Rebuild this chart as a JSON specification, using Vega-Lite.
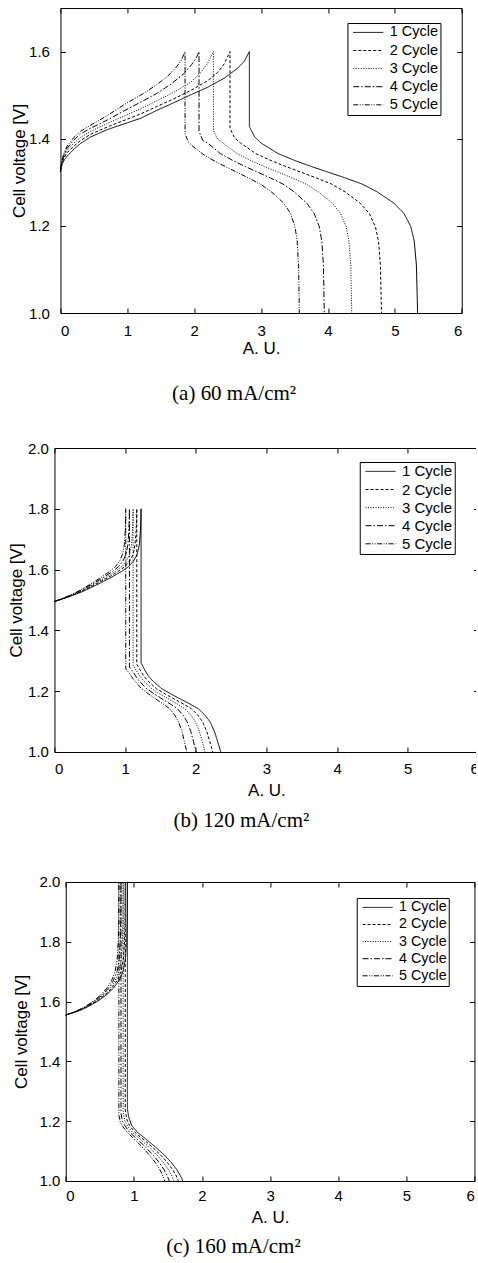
{
  "$schema": "https://vega.github.io/schema/vega-lite/v6.json",
  "padding": {"left": 6.45, "top": 7, "right": -3, "bottom": 0},
  "columns": 1,
  "spacing": 37,
  "resolve": {"scale": {"strokeDash": "independent"}, "legend": {"strokeDash": "independent"}},
  "config": {
    "view": {"stroke": null},
    "axis": {"labelFont": "Liberation Sans", "titleFont": "Liberation Sans", "labelFontSize": 15, "titleFontSize": 17, "titleFontWeight": "normal", "labelColor": "black", "titleColor": "black", "tickColor": "black", "tickSize": -5, "grid": false, "domain": true, "domainColor": "black", "domainWidth": 1},
    "legend": {"labelFont": "Liberation Sans", "labelFontSize": 14.5, "labelColor": "black"},
    "title": {"font": "Liberation Serif", "fontSize": 21, "fontWeight": "normal", "color": "black"}
  },
  "datasets": {
    "a": [
      {"c":"1 Cycle","i":0,"x":0,"v":1.325},{"c":"1 Cycle","i":1,"x":0.01,"v":1.333},{"c":"1 Cycle","i":2,"x":0.03,"v":1.343},{"c":"1 Cycle","i":3,"x":0.06,"v":1.352},{"c":"1 Cycle","i":4,"x":0.1,"v":1.36},{"c":"1 Cycle","i":5,"x":0.2,"v":1.376},{"c":"1 Cycle","i":6,"x":0.3,"v":1.389},{"c":"1 Cycle","i":7,"x":0.45,"v":1.404},{"c":"1 Cycle","i":8,"x":0.7,"v":1.421},{"c":"1 Cycle","i":9,"x":0.95,"v":1.434},{"c":"1 Cycle","i":10,"x":1.2,"v":1.447},{"c":"1 Cycle","i":11,"x":1.44,"v":1.465},{"c":"1 Cycle","i":12,"x":1.7,"v":1.483},{"c":"1 Cycle","i":13,"x":1.95,"v":1.501},{"c":"1 Cycle","i":14,"x":2.2,"v":1.518},{"c":"1 Cycle","i":15,"x":2.45,"v":1.539},{"c":"1 Cycle","i":16,"x":2.65,"v":1.562},{"c":"1 Cycle","i":17,"x":2.75,"v":1.578},{"c":"1 Cycle","i":18,"x":2.825,"v":1.6},
      {"c":"1 Cycle","i":19,"x":2.825,"v":1.428},{"c":"1 Cycle","i":20,"x":2.9,"v":1.405},{"c":"1 Cycle","i":21,"x":3.001,"v":1.39},{"c":"1 Cycle","i":22,"x":3.253,"v":1.366},{"c":"1 Cycle","i":23,"x":3.504,"v":1.35},{"c":"1 Cycle","i":24,"x":3.756,"v":1.336},{"c":"1 Cycle","i":25,"x":4.007,"v":1.323},{"c":"1 Cycle","i":26,"x":4.259,"v":1.31},{"c":"1 Cycle","i":27,"x":4.51,"v":1.296},{"c":"1 Cycle","i":28,"x":4.736,"v":1.278},{"c":"1 Cycle","i":29,"x":4.988,"v":1.252},{"c":"1 Cycle","i":30,"x":5.139,"v":1.228},{"c":"1 Cycle","i":31,"x":5.239,"v":1.198},{"c":"1 Cycle","i":32,"x":5.29,"v":1.165},{"c":"1 Cycle","i":33,"x":5.322,"v":1.11},{"c":"1 Cycle","i":34,"x":5.332,"v":1.05},{"c":"1 Cycle","i":35,"x":5.34,"v":1.0},
      {"c":"2 Cycle","i":0,"x":0,"v":1.325},{"c":"2 Cycle","i":1,"x":0.01,"v":1.336},{"c":"2 Cycle","i":2,"x":0.03,"v":1.347},{"c":"2 Cycle","i":3,"x":0.06,"v":1.358},{"c":"2 Cycle","i":4,"x":0.1,"v":1.368},{"c":"2 Cycle","i":5,"x":0.2,"v":1.383},{"c":"2 Cycle","i":6,"x":0.3,"v":1.396},{"c":"2 Cycle","i":7,"x":0.45,"v":1.41},{"c":"2 Cycle","i":8,"x":0.7,"v":1.427},{"c":"2 Cycle","i":9,"x":0.95,"v":1.442},{"c":"2 Cycle","i":10,"x":1.2,"v":1.457},{"c":"2 Cycle","i":11,"x":1.44,"v":1.474},{"c":"2 Cycle","i":12,"x":1.7,"v":1.492},{"c":"2 Cycle","i":13,"x":1.95,"v":1.511},{"c":"2 Cycle","i":14,"x":2.2,"v":1.533},{"c":"2 Cycle","i":15,"x":2.35,"v":1.552},{"c":"2 Cycle","i":16,"x":2.45,"v":1.572},{"c":"2 Cycle","i":17,"x":2.535,"v":1.6},
      {"c":"2 Cycle","i":18,"x":2.535,"v":1.424},{"c":"2 Cycle","i":19,"x":2.603,"v":1.402},{"c":"2 Cycle","i":20,"x":2.694,"v":1.39},{"c":"2 Cycle","i":21,"x":2.92,"v":1.366},{"c":"2 Cycle","i":22,"x":3.147,"v":1.35},{"c":"2 Cycle","i":23,"x":3.373,"v":1.336},{"c":"2 Cycle","i":24,"x":3.6,"v":1.323},{"c":"2 Cycle","i":25,"x":3.826,"v":1.31},{"c":"2 Cycle","i":26,"x":4.053,"v":1.296},{"c":"2 Cycle","i":27,"x":4.256,"v":1.278},{"c":"2 Cycle","i":28,"x":4.483,"v":1.252},{"c":"2 Cycle","i":29,"x":4.619,"v":1.228},{"c":"2 Cycle","i":30,"x":4.709,"v":1.198},{"c":"2 Cycle","i":31,"x":4.755,"v":1.165},{"c":"2 Cycle","i":32,"x":4.784,"v":1.11},{"c":"2 Cycle","i":33,"x":4.793,"v":1.05},{"c":"2 Cycle","i":34,"x":4.8,"v":1.0},
      {"c":"3 Cycle","i":0,"x":0,"v":1.325},{"c":"3 Cycle","i":1,"x":0.01,"v":1.337},{"c":"3 Cycle","i":2,"x":0.03,"v":1.35},{"c":"3 Cycle","i":3,"x":0.06,"v":1.362},{"c":"3 Cycle","i":4,"x":0.1,"v":1.373},{"c":"3 Cycle","i":5,"x":0.2,"v":1.39},{"c":"3 Cycle","i":6,"x":0.3,"v":1.403},{"c":"3 Cycle","i":7,"x":0.45,"v":1.417},{"c":"3 Cycle","i":8,"x":0.7,"v":1.435},{"c":"3 Cycle","i":9,"x":0.95,"v":1.452},{"c":"3 Cycle","i":10,"x":1.2,"v":1.469},{"c":"3 Cycle","i":11,"x":1.44,"v":1.487},{"c":"3 Cycle","i":12,"x":1.7,"v":1.507},{"c":"3 Cycle","i":13,"x":1.95,"v":1.53},{"c":"3 Cycle","i":14,"x":2.1,"v":1.552},{"c":"3 Cycle","i":15,"x":2.2,"v":1.573},{"c":"3 Cycle","i":16,"x":2.287,"v":1.6},
      {"c":"3 Cycle","i":17,"x":2.287,"v":1.42},{"c":"3 Cycle","i":18,"x":2.349,"v":1.399},{"c":"3 Cycle","i":19,"x":2.432,"v":1.39},{"c":"3 Cycle","i":20,"x":2.639,"v":1.366},{"c":"3 Cycle","i":21,"x":2.845,"v":1.35},{"c":"3 Cycle","i":22,"x":3.052,"v":1.336},{"c":"3 Cycle","i":23,"x":3.259,"v":1.323},{"c":"3 Cycle","i":24,"x":3.466,"v":1.31},{"c":"3 Cycle","i":25,"x":3.673,"v":1.296},{"c":"3 Cycle","i":26,"x":3.859,"v":1.278},{"c":"3 Cycle","i":27,"x":4.065,"v":1.252},{"c":"3 Cycle","i":28,"x":4.19,"v":1.228},{"c":"3 Cycle","i":29,"x":4.272,"v":1.198},{"c":"3 Cycle","i":30,"x":4.314,"v":1.165},{"c":"3 Cycle","i":31,"x":4.341,"v":1.11},{"c":"3 Cycle","i":32,"x":4.349,"v":1.05},{"c":"3 Cycle","i":33,"x":4.355,"v":1.0},
      {"c":"4 Cycle","i":0,"x":0,"v":1.325},{"c":"4 Cycle","i":1,"x":0.01,"v":1.338},{"c":"4 Cycle","i":2,"x":0.03,"v":1.352},{"c":"4 Cycle","i":3,"x":0.06,"v":1.366},{"c":"4 Cycle","i":4,"x":0.1,"v":1.378},{"c":"4 Cycle","i":5,"x":0.2,"v":1.397},{"c":"4 Cycle","i":6,"x":0.3,"v":1.411},{"c":"4 Cycle","i":7,"x":0.45,"v":1.424},{"c":"4 Cycle","i":8,"x":0.7,"v":1.443},{"c":"4 Cycle","i":9,"x":0.95,"v":1.464},{"c":"4 Cycle","i":10,"x":1.2,"v":1.484},{"c":"4 Cycle","i":11,"x":1.44,"v":1.504},{"c":"4 Cycle","i":12,"x":1.65,"v":1.525},{"c":"4 Cycle","i":13,"x":1.85,"v":1.55},{"c":"4 Cycle","i":14,"x":1.96,"v":1.57},{"c":"4 Cycle","i":15,"x":2.03,"v":1.585},{"c":"4 Cycle","i":16,"x":2.072,"v":1.6},
      {"c":"4 Cycle","i":17,"x":2.072,"v":1.417},{"c":"4 Cycle","i":18,"x":2.128,"v":1.396},{"c":"4 Cycle","i":19,"x":2.203,"v":1.39},{"c":"4 Cycle","i":20,"x":2.39,"v":1.366},{"c":"4 Cycle","i":21,"x":2.578,"v":1.35},{"c":"4 Cycle","i":22,"x":2.765,"v":1.336},{"c":"4 Cycle","i":23,"x":2.952,"v":1.323},{"c":"4 Cycle","i":24,"x":3.14,"v":1.31},{"c":"4 Cycle","i":25,"x":3.327,"v":1.296},{"c":"4 Cycle","i":26,"x":3.495,"v":1.278},{"c":"4 Cycle","i":27,"x":3.683,"v":1.252},{"c":"4 Cycle","i":28,"x":3.795,"v":1.228},{"c":"4 Cycle","i":29,"x":3.87,"v":1.198},{"c":"4 Cycle","i":30,"x":3.908,"v":1.165},{"c":"4 Cycle","i":31,"x":3.932,"v":1.11},{"c":"4 Cycle","i":32,"x":3.939,"v":1.05},{"c":"4 Cycle","i":33,"x":3.945,"v":1.0},
      {"c":"5 Cycle","i":0,"x":0,"v":1.325},{"c":"5 Cycle","i":1,"x":0.01,"v":1.34},{"c":"5 Cycle","i":2,"x":0.03,"v":1.355},{"c":"5 Cycle","i":3,"x":0.06,"v":1.37},{"c":"5 Cycle","i":4,"x":0.1,"v":1.383},{"c":"5 Cycle","i":5,"x":0.2,"v":1.403},{"c":"5 Cycle","i":6,"x":0.3,"v":1.417},{"c":"5 Cycle","i":7,"x":0.45,"v":1.431},{"c":"5 Cycle","i":8,"x":0.7,"v":1.453},{"c":"5 Cycle","i":9,"x":0.95,"v":1.478},{"c":"5 Cycle","i":10,"x":1.2,"v":1.5},{"c":"5 Cycle","i":11,"x":1.44,"v":1.524},{"c":"5 Cycle","i":12,"x":1.6,"v":1.543},{"c":"5 Cycle","i":13,"x":1.72,"v":1.562},{"c":"5 Cycle","i":14,"x":1.8,"v":1.578},{"c":"5 Cycle","i":15,"x":1.863,"v":1.6},
      {"c":"5 Cycle","i":16,"x":1.863,"v":1.411},{"c":"5 Cycle","i":17,"x":1.914,"v":1.392},{"c":"5 Cycle","i":18,"x":1.983,"v":1.382},{"c":"5 Cycle","i":19,"x":2.154,"v":1.362},{"c":"5 Cycle","i":20,"x":2.324,"v":1.347},{"c":"5 Cycle","i":21,"x":2.495,"v":1.334},{"c":"5 Cycle","i":22,"x":2.666,"v":1.321},{"c":"5 Cycle","i":23,"x":2.837,"v":1.308},{"c":"5 Cycle","i":24,"x":3.008,"v":1.294},{"c":"5 Cycle","i":25,"x":3.162,"v":1.277},{"c":"5 Cycle","i":26,"x":3.333,"v":1.253},{"c":"5 Cycle","i":27,"x":3.435,"v":1.23},{"c":"5 Cycle","i":28,"x":3.504,"v":1.2},{"c":"5 Cycle","i":29,"x":3.538,"v":1.168},{"c":"5 Cycle","i":30,"x":3.56,"v":1.11},{"c":"5 Cycle","i":31,"x":3.567,"v":1.05},{"c":"5 Cycle","i":32,"x":3.572,"v":1.0}
    ],
    "b": [
      {"c":"1 Cycle","i":0,"x":0,"v":1.495},{"c":"1 Cycle","i":1,"x":0.2,"v":1.51},{"c":"1 Cycle","i":2,"x":0.4,"v":1.528},{"c":"1 Cycle","i":3,"x":0.6,"v":1.55},{"c":"1 Cycle","i":4,"x":0.8,"v":1.574},{"c":"1 Cycle","i":5,"x":0.95,"v":1.594},{"c":"1 Cycle","i":6,"x":1.05,"v":1.61},{"c":"1 Cycle","i":7,"x":1.12,"v":1.628},{"c":"1 Cycle","i":8,"x":1.17,"v":1.65},{"c":"1 Cycle","i":9,"x":1.2,"v":1.68},{"c":"1 Cycle","i":10,"x":1.215,"v":1.72},{"c":"1 Cycle","i":11,"x":1.223,"v":1.76},{"c":"1 Cycle","i":12,"x":1.226,"v":1.8},
      {"c":"1 Cycle","i":13,"x":1.226,"v":1.293},{"c":"1 Cycle","i":14,"x":1.26,"v":1.278},{"c":"1 Cycle","i":15,"x":1.294,"v":1.263},{"c":"1 Cycle","i":16,"x":1.33,"v":1.25},{"c":"1 Cycle","i":17,"x":1.395,"v":1.233},{"c":"1 Cycle","i":18,"x":1.519,"v":1.208},{"c":"1 Cycle","i":19,"x":1.655,"v":1.19},{"c":"1 Cycle","i":20,"x":1.801,"v":1.172},{"c":"1 Cycle","i":21,"x":1.925,"v":1.157},{"c":"1 Cycle","i":22,"x":2.038,"v":1.142},{"c":"1 Cycle","i":23,"x":2.128,"v":1.122},{"c":"1 Cycle","i":24,"x":2.203,"v":1.099},{"c":"1 Cycle","i":25,"x":2.264,"v":1.068},{"c":"1 Cycle","i":26,"x":2.309,"v":1.035},{"c":"1 Cycle","i":27,"x":2.354,"v":1.0},
      {"c":"2 Cycle","i":0,"x":0,"v":1.495},{"c":"2 Cycle","i":1,"x":0.19,"v":1.51},{"c":"2 Cycle","i":2,"x":0.38,"v":1.528},{"c":"2 Cycle","i":3,"x":0.57,"v":1.55},{"c":"2 Cycle","i":4,"x":0.76,"v":1.574},{"c":"2 Cycle","i":5,"x":0.903,"v":1.594},{"c":"2 Cycle","i":6,"x":0.998,"v":1.61},{"c":"2 Cycle","i":7,"x":1.064,"v":1.628},{"c":"2 Cycle","i":8,"x":1.112,"v":1.65},{"c":"2 Cycle","i":9,"x":1.14,"v":1.68},{"c":"2 Cycle","i":10,"x":1.154,"v":1.72},{"c":"2 Cycle","i":11,"x":1.162,"v":1.76},{"c":"2 Cycle","i":12,"x":1.165,"v":1.8},
      {"c":"2 Cycle","i":13,"x":1.165,"v":1.289},{"c":"2 Cycle","i":14,"x":1.197,"v":1.276},{"c":"2 Cycle","i":15,"x":1.23,"v":1.263},{"c":"2 Cycle","i":16,"x":1.264,"v":1.25},{"c":"2 Cycle","i":17,"x":1.326,"v":1.233},{"c":"2 Cycle","i":18,"x":1.445,"v":1.208},{"c":"2 Cycle","i":19,"x":1.574,"v":1.19},{"c":"2 Cycle","i":20,"x":1.714,"v":1.172},{"c":"2 Cycle","i":21,"x":1.832,"v":1.157},{"c":"2 Cycle","i":22,"x":1.94,"v":1.142},{"c":"2 Cycle","i":23,"x":2.026,"v":1.122},{"c":"2 Cycle","i":24,"x":2.097,"v":1.099},{"c":"2 Cycle","i":25,"x":2.155,"v":1.068},{"c":"2 Cycle","i":26,"x":2.198,"v":1.035},{"c":"2 Cycle","i":27,"x":2.241,"v":1.0},
      {"c":"3 Cycle","i":0,"x":0,"v":1.495},{"c":"3 Cycle","i":1,"x":0.182,"v":1.51},{"c":"3 Cycle","i":2,"x":0.363,"v":1.528},{"c":"3 Cycle","i":3,"x":0.545,"v":1.55},{"c":"3 Cycle","i":4,"x":0.726,"v":1.574},{"c":"3 Cycle","i":5,"x":0.863,"v":1.594},{"c":"3 Cycle","i":6,"x":0.953,"v":1.61},{"c":"3 Cycle","i":7,"x":1.017,"v":1.628},{"c":"3 Cycle","i":8,"x":1.062,"v":1.65},{"c":"3 Cycle","i":9,"x":1.09,"v":1.68},{"c":"3 Cycle","i":10,"x":1.103,"v":1.72},{"c":"3 Cycle","i":11,"x":1.11,"v":1.76},{"c":"3 Cycle","i":12,"x":1.113,"v":1.8},
      {"c":"3 Cycle","i":13,"x":1.113,"v":1.285},{"c":"3 Cycle","i":14,"x":1.144,"v":1.273},{"c":"3 Cycle","i":15,"x":1.174,"v":1.263},{"c":"3 Cycle","i":16,"x":1.207,"v":1.25},{"c":"3 Cycle","i":17,"x":1.266,"v":1.233},{"c":"3 Cycle","i":18,"x":1.378,"v":1.208},{"c":"3 Cycle","i":19,"x":1.5,"v":1.19},{"c":"3 Cycle","i":20,"x":1.633,"v":1.172},{"c":"3 Cycle","i":21,"x":1.745,"v":1.157},{"c":"3 Cycle","i":22,"x":1.847,"v":1.142},{"c":"3 Cycle","i":23,"x":1.928,"v":1.122},{"c":"3 Cycle","i":24,"x":1.995,"v":1.099},{"c":"3 Cycle","i":25,"x":2.05,"v":1.068},{"c":"3 Cycle","i":26,"x":2.091,"v":1.035},{"c":"3 Cycle","i":27,"x":2.132,"v":1.0},
      {"c":"4 Cycle","i":0,"x":0,"v":1.495},{"c":"4 Cycle","i":1,"x":0.173,"v":1.51},{"c":"4 Cycle","i":2,"x":0.346,"v":1.528},{"c":"4 Cycle","i":3,"x":0.519,"v":1.55},{"c":"4 Cycle","i":4,"x":0.692,"v":1.574},{"c":"4 Cycle","i":5,"x":0.822,"v":1.594},{"c":"4 Cycle","i":6,"x":0.908,"v":1.61},{"c":"4 Cycle","i":7,"x":0.969,"v":1.628},{"c":"4 Cycle","i":8,"x":1.012,"v":1.65},{"c":"4 Cycle","i":9,"x":1.038,"v":1.68},{"c":"4 Cycle","i":10,"x":1.051,"v":1.72},{"c":"4 Cycle","i":11,"x":1.058,"v":1.76},{"c":"4 Cycle","i":12,"x":1.061,"v":1.8},
      {"c":"4 Cycle","i":13,"x":1.061,"v":1.28},{"c":"4 Cycle","i":14,"x":1.089,"v":1.27},{"c":"4 Cycle","i":15,"x":1.118,"v":1.262},{"c":"4 Cycle","i":16,"x":1.148,"v":1.25},{"c":"4 Cycle","i":17,"x":1.203,"v":1.233},{"c":"4 Cycle","i":18,"x":1.306,"v":1.208},{"c":"4 Cycle","i":19,"x":1.42,"v":1.19},{"c":"4 Cycle","i":20,"x":1.542,"v":1.172},{"c":"4 Cycle","i":21,"x":1.646,"v":1.157},{"c":"4 Cycle","i":22,"x":1.741,"v":1.142},{"c":"4 Cycle","i":23,"x":1.816,"v":1.122},{"c":"4 Cycle","i":24,"x":1.879,"v":1.099},{"c":"4 Cycle","i":25,"x":1.929,"v":1.068},{"c":"4 Cycle","i":26,"x":1.967,"v":1.035},{"c":"4 Cycle","i":27,"x":2.005,"v":1.0},
      {"c":"5 Cycle","i":0,"x":0,"v":1.495},{"c":"5 Cycle","i":1,"x":0.165,"v":1.51},{"c":"5 Cycle","i":2,"x":0.329,"v":1.528},{"c":"5 Cycle","i":3,"x":0.494,"v":1.55},{"c":"5 Cycle","i":4,"x":0.658,"v":1.574},{"c":"5 Cycle","i":5,"x":0.782,"v":1.594},{"c":"5 Cycle","i":6,"x":0.864,"v":1.61},{"c":"5 Cycle","i":7,"x":0.922,"v":1.628},{"c":"5 Cycle","i":8,"x":0.963,"v":1.65},{"c":"5 Cycle","i":9,"x":0.988,"v":1.68},{"c":"5 Cycle","i":10,"x":1.0,"v":1.72},{"c":"5 Cycle","i":11,"x":1.007,"v":1.76},{"c":"5 Cycle","i":12,"x":1.009,"v":1.8},
      {"c":"5 Cycle","i":13,"x":1.009,"v":1.273},{"c":"5 Cycle","i":14,"x":1.035,"v":1.266},{"c":"5 Cycle","i":15,"x":1.061,"v":1.259},{"c":"5 Cycle","i":16,"x":1.088,"v":1.249},{"c":"5 Cycle","i":17,"x":1.139,"v":1.233},{"c":"5 Cycle","i":18,"x":1.234,"v":1.208},{"c":"5 Cycle","i":19,"x":1.337,"v":1.19},{"c":"5 Cycle","i":20,"x":1.45,"v":1.172},{"c":"5 Cycle","i":21,"x":1.545,"v":1.157},{"c":"5 Cycle","i":22,"x":1.631,"v":1.142},{"c":"5 Cycle","i":23,"x":1.7,"v":1.122},{"c":"5 Cycle","i":24,"x":1.757,"v":1.099},{"c":"5 Cycle","i":25,"x":1.804,"v":1.068},{"c":"5 Cycle","i":26,"x":1.838,"v":1.035},{"c":"5 Cycle","i":27,"x":1.873,"v":1.0}
    ],
    "c": [
      {"c":"1 Cycle","i":0,"x":0,"v":1.555},{"c":"1 Cycle","i":1,"x":0.1,"v":1.562},{"c":"1 Cycle","i":2,"x":0.2,"v":1.57},{"c":"1 Cycle","i":3,"x":0.3,"v":1.58},{"c":"1 Cycle","i":4,"x":0.4,"v":1.592},{"c":"1 Cycle","i":5,"x":0.5,"v":1.606},{"c":"1 Cycle","i":6,"x":0.6,"v":1.623},{"c":"1 Cycle","i":7,"x":0.7,"v":1.645},{"c":"1 Cycle","i":8,"x":0.78,"v":1.67},{"c":"1 Cycle","i":9,"x":0.84,"v":1.7},{"c":"1 Cycle","i":10,"x":0.875,"v":1.74},{"c":"1 Cycle","i":11,"x":0.893,"v":1.8},{"c":"1 Cycle","i":12,"x":0.902,"v":1.87},{"c":"1 Cycle","i":13,"x":0.905,"v":2.0},
      {"c":"1 Cycle","i":14,"x":0.905,"v":1.24},{"c":"1 Cycle","i":15,"x":0.929,"v":1.21},{"c":"1 Cycle","i":16,"x":0.97,"v":1.185},{"c":"1 Cycle","i":17,"x":1.052,"v":1.163},{"c":"1 Cycle","i":18,"x":1.15,"v":1.145},{"c":"1 Cycle","i":19,"x":1.3,"v":1.117},{"c":"1 Cycle","i":20,"x":1.451,"v":1.086},{"c":"1 Cycle","i":21,"x":1.549,"v":1.062},{"c":"1 Cycle","i":22,"x":1.63,"v":1.038},{"c":"1 Cycle","i":23,"x":1.679,"v":1.02},{"c":"1 Cycle","i":24,"x":1.72,"v":1.0},
      {"c":"2 Cycle","i":0,"x":0,"v":1.555},{"c":"2 Cycle","i":1,"x":0.097,"v":1.562},{"c":"2 Cycle","i":2,"x":0.193,"v":1.57},{"c":"2 Cycle","i":3,"x":0.29,"v":1.58},{"c":"2 Cycle","i":4,"x":0.386,"v":1.592},{"c":"2 Cycle","i":5,"x":0.483,"v":1.606},{"c":"2 Cycle","i":6,"x":0.58,"v":1.623},{"c":"2 Cycle","i":7,"x":0.676,"v":1.645},{"c":"2 Cycle","i":8,"x":0.753,"v":1.67},{"c":"2 Cycle","i":9,"x":0.811,"v":1.7},{"c":"2 Cycle","i":10,"x":0.845,"v":1.74},{"c":"2 Cycle","i":11,"x":0.863,"v":1.8},{"c":"2 Cycle","i":12,"x":0.871,"v":1.87},{"c":"2 Cycle","i":13,"x":0.874,"v":2.0},
      {"c":"2 Cycle","i":14,"x":0.874,"v":1.235},{"c":"2 Cycle","i":15,"x":0.897,"v":1.206},{"c":"2 Cycle","i":16,"x":0.936,"v":1.185},{"c":"2 Cycle","i":17,"x":1.015,"v":1.163},{"c":"2 Cycle","i":18,"x":1.108,"v":1.145},{"c":"2 Cycle","i":19,"x":1.253,"v":1.117},{"c":"2 Cycle","i":20,"x":1.397,"v":1.086},{"c":"2 Cycle","i":21,"x":1.491,"v":1.062},{"c":"2 Cycle","i":22,"x":1.569,"v":1.038},{"c":"2 Cycle","i":23,"x":1.616,"v":1.02},{"c":"2 Cycle","i":24,"x":1.655,"v":1.0},
      {"c":"3 Cycle","i":0,"x":0,"v":1.555},{"c":"3 Cycle","i":1,"x":0.093,"v":1.562},{"c":"3 Cycle","i":2,"x":0.186,"v":1.57},{"c":"3 Cycle","i":3,"x":0.279,"v":1.58},{"c":"3 Cycle","i":4,"x":0.372,"v":1.592},{"c":"3 Cycle","i":5,"x":0.466,"v":1.606},{"c":"3 Cycle","i":6,"x":0.559,"v":1.623},{"c":"3 Cycle","i":7,"x":0.652,"v":1.645},{"c":"3 Cycle","i":8,"x":0.726,"v":1.67},{"c":"3 Cycle","i":9,"x":0.782,"v":1.7},{"c":"3 Cycle","i":10,"x":0.815,"v":1.74},{"c":"3 Cycle","i":11,"x":0.831,"v":1.8},{"c":"3 Cycle","i":12,"x":0.84,"v":1.87},{"c":"3 Cycle","i":13,"x":0.843,"v":2.0},
      {"c":"3 Cycle","i":14,"x":0.843,"v":1.23},{"c":"3 Cycle","i":15,"x":0.865,"v":1.203},{"c":"3 Cycle","i":16,"x":0.903,"v":1.185},{"c":"3 Cycle","i":17,"x":0.977,"v":1.163},{"c":"3 Cycle","i":18,"x":1.067,"v":1.145},{"c":"3 Cycle","i":19,"x":1.205,"v":1.117},{"c":"3 Cycle","i":20,"x":1.343,"v":1.086},{"c":"3 Cycle","i":21,"x":1.433,"v":1.062},{"c":"3 Cycle","i":22,"x":1.508,"v":1.038},{"c":"3 Cycle","i":23,"x":1.553,"v":1.02},{"c":"3 Cycle","i":24,"x":1.59,"v":1.0},
      {"c":"4 Cycle","i":0,"x":0,"v":1.555},{"c":"4 Cycle","i":1,"x":0.09,"v":1.562},{"c":"4 Cycle","i":2,"x":0.179,"v":1.57},{"c":"4 Cycle","i":3,"x":0.269,"v":1.58},{"c":"4 Cycle","i":4,"x":0.358,"v":1.592},{"c":"4 Cycle","i":5,"x":0.448,"v":1.606},{"c":"4 Cycle","i":6,"x":0.538,"v":1.623},{"c":"4 Cycle","i":7,"x":0.627,"v":1.645},{"c":"4 Cycle","i":8,"x":0.699,"v":1.67},{"c":"4 Cycle","i":9,"x":0.753,"v":1.7},{"c":"4 Cycle","i":10,"x":0.784,"v":1.74},{"c":"4 Cycle","i":11,"x":0.8,"v":1.8},{"c":"4 Cycle","i":12,"x":0.808,"v":1.87},{"c":"4 Cycle","i":13,"x":0.811,"v":2.0},
      {"c":"4 Cycle","i":14,"x":0.811,"v":1.225},{"c":"4 Cycle","i":15,"x":0.832,"v":1.2},{"c":"4 Cycle","i":16,"x":0.868,"v":1.185},{"c":"4 Cycle","i":17,"x":0.939,"v":1.163},{"c":"4 Cycle","i":18,"x":1.024,"v":1.145},{"c":"4 Cycle","i":19,"x":1.155,"v":1.117},{"c":"4 Cycle","i":20,"x":1.286,"v":1.086},{"c":"4 Cycle","i":21,"x":1.371,"v":1.062},{"c":"4 Cycle","i":22,"x":1.442,"v":1.038},{"c":"4 Cycle","i":23,"x":1.485,"v":1.02},{"c":"4 Cycle","i":24,"x":1.52,"v":1.0},
      {"c":"5 Cycle","i":0,"x":0,"v":1.555},{"c":"5 Cycle","i":1,"x":0.086,"v":1.562},{"c":"5 Cycle","i":2,"x":0.172,"v":1.57},{"c":"5 Cycle","i":3,"x":0.259,"v":1.58},{"c":"5 Cycle","i":4,"x":0.345,"v":1.592},{"c":"5 Cycle","i":5,"x":0.431,"v":1.606},{"c":"5 Cycle","i":6,"x":0.517,"v":1.623},{"c":"5 Cycle","i":7,"x":0.603,"v":1.645},{"c":"5 Cycle","i":8,"x":0.672,"v":1.67},{"c":"5 Cycle","i":9,"x":0.724,"v":1.7},{"c":"5 Cycle","i":10,"x":0.754,"v":1.74},{"c":"5 Cycle","i":11,"x":0.77,"v":1.8},{"c":"5 Cycle","i":12,"x":0.778,"v":1.87},{"c":"5 Cycle","i":13,"x":0.78,"v":2.0},
      {"c":"5 Cycle","i":14,"x":0.78,"v":1.22},{"c":"5 Cycle","i":15,"x":0.8,"v":1.197},{"c":"5 Cycle","i":16,"x":0.834,"v":1.183},{"c":"5 Cycle","i":17,"x":0.902,"v":1.163},{"c":"5 Cycle","i":18,"x":0.983,"v":1.145},{"c":"5 Cycle","i":19,"x":1.107,"v":1.117},{"c":"5 Cycle","i":20,"x":1.232,"v":1.086},{"c":"5 Cycle","i":21,"x":1.313,"v":1.062},{"c":"5 Cycle","i":22,"x":1.381,"v":1.038},{"c":"5 Cycle","i":23,"x":1.421,"v":1.02},{"c":"5 Cycle","i":24,"x":1.455,"v":1.0}
    ]
  },
  "concat": [
    {
      "width": 407.3, "height": 305,
      "data": {"name": "a"},
      "title": {"text": "(a) 60 mA/cm²", "orient": "bottom", "dx": -24, "offset": 27},
      "layer": [
        {
          "mark": {"type": "line", "clip": true, "strokeWidth": 1, "color": "black"},
          "encoding": {
            "x": {"field": "x", "type": "quantitative", "scale": {"domain": [0, 6], "range": [6, 407.3], "nice": false, "zero": false}, "axis": {"values": [0,1,2,3,4,5,6], "title": "A. U.", "labelPadding": 15, "titlePadding": 2}},
            "y": {"field": "v", "type": "quantitative", "scale": {"domain": [1, 1.7], "nice": false, "zero": false}, "axis": {"offset": -6, "values": [1,1.2,1.4,1.6], "format": ".1f", "title": "Cell voltage [V]", "labelPadding": 16, "titlePadding": 0}},
            "strokeDash": {"field": "c", "type": "nominal", "scale": {"domain": ["1 Cycle","2 Cycle","3 Cycle","4 Cycle","5 Cycle"], "range": [[1,0],[3,2],[1,1.5],[6,2,1.5,2],[5,1.5,1,1.5,1,1.5]]}, "legend": {"title": null, "orient": "none", "legendX": 293, "legendY": 15, "strokeColor": "black", "padding": 1.9, "symbolType": "stroke", "symbolSize": 900, "symbolStrokeWidth": 1, "symbolStrokeColor": "black", "clipHeight": 15, "rowPadding": 2.1, "symbolOffset": 3.4, "labelOffset": 6, "labelFontSize": 14.5}},
            "order": {"field": "i", "type": "quantitative"}
          }
        },
        {
          "mark": {"type": "point", "opacity": 0},
          "encoding": {
            "x": {"field": "x", "type": "quantitative", "scale": {"domain": [0, 6], "range": [6, 407.3], "nice": false, "zero": false}, "axis": {"orient": "top", "values": [0,1,2,3,4,5,6], "labels": false, "title": null}},
            "y": {"field": "v", "type": "quantitative", "scale": {"domain": [1, 1.7], "nice": false, "zero": false}, "axis": {"orient": "right", "values": [1,1.2,1.4,1.6], "labels": false, "title": null}}
          }
        }
      ],
      "resolve": {"axis": {"x": "independent", "y": "independent"}}
    },
    {
      "columns": 1,
      "spacing": 44,
      "resolve": {"scale": {"strokeDash": "independent"}, "legend": {"strokeDash": "independent"}},
      "concat": [
        {
          "width": 424, "height": 304,
          "data": {"name": "b"},
          "title": {"text": "(b) 120 mA/cm²", "orient": "bottom", "dx": -25, "offset": 11},
          "layer": [
            {
              "mark": {"type": "line", "clip": true, "strokeWidth": 1, "color": "black"},
              "encoding": {
                "x": {"field": "x", "type": "quantitative", "scale": {"domain": [0, 6], "nice": false, "zero": false}, "axis": {"values": [0,1,2,3,4,5,6], "title": "A. U.", "labelPadding": 15, "titlePadding": 6}},
                "y": {"field": "v", "type": "quantitative", "scale": {"domain": [1, 2], "nice": false, "zero": false}, "axis": {"values": [1,1.2,1.4,1.6,1.8,2], "format": ".1f", "title": "Cell voltage [V]", "labelPadding": 11, "titlePadding": 2.4}},
                "strokeDash": {"field": "c", "type": "nominal", "scale": {"domain": ["1 Cycle","2 Cycle","3 Cycle","4 Cycle","5 Cycle"], "range": [[1,0],[3,2],[1,1.5],[6,2,1.5,2],[5,1.5,1,1.5,1,1.5]]}, "legend": {"title": null, "orient": "none", "legendX": 305.3, "legendY": 14, "strokeColor": "black", "padding": 1.9, "symbolType": "stroke", "symbolSize": 900, "symbolStrokeWidth": 1, "symbolStrokeColor": "black", "clipHeight": 15, "rowPadding": 2.1, "symbolOffset": 3.4, "labelOffset": 6, "labelFontSize": 15}},
                "order": {"field": "i", "type": "quantitative"}
              }
            },
            {
              "mark": {"type": "point", "opacity": 0},
              "encoding": {
                "x": {"field": "x", "type": "quantitative", "scale": {"domain": [0, 6], "nice": false, "zero": false}, "axis": {"orient": "top", "values": [0,1,2,3,4,5,6], "labels": false, "title": null}},
                "y": {"field": "v", "type": "quantitative", "scale": {"domain": [1, 2], "nice": false, "zero": false}, "axis": {"orient": "right", "values": [1,1.2,1.4,1.6,1.8,2], "labels": false, "title": null}}
              }
            }
          ],
          "resolve": {"axis": {"x": "independent", "y": "independent"}}
        },
        {
          "width": 420, "height": 299,
          "data": {"name": "c"},
          "title": {"text": "(c) 160 mA/cm²", "orient": "bottom", "dx": -31, "offset": 10},
          "layer": [
            {
              "mark": {"type": "line", "clip": true, "strokeWidth": 1, "color": "black"},
              "encoding": {
                "x": {"field": "x", "type": "quantitative", "scale": {"domain": [0, 6], "range": [11.3, 420], "nice": false, "zero": false}, "axis": {"values": [0,1,2,3,4,5,6], "title": "A. U.", "labelPadding": 13, "titlePadding": 6}},
                "y": {"field": "v", "type": "quantitative", "scale": {"domain": [1, 2], "nice": false, "zero": false}, "axis": {"offset": -11.3, "values": [1,1.2,1.4,1.6,1.8,2], "format": ".1f", "title": "Cell voltage [V]", "labelPadding": 11, "titlePadding": 8.7}},
                "strokeDash": {"field": "c", "type": "nominal", "scale": {"domain": ["1 Cycle","2 Cycle","3 Cycle","4 Cycle","5 Cycle"], "range": [[1,0],[3,2],[1,1.5],[6,2,1.5,2],[5,1.5,1,1.5,1,1.5]]}, "legend": {"title": null, "orient": "none", "legendX": 302.3, "legendY": 16, "strokeColor": "black", "padding": 1.9, "symbolType": "stroke", "symbolSize": 900, "symbolStrokeWidth": 1, "symbolStrokeColor": "black", "clipHeight": 15, "rowPadding": 2.1, "symbolOffset": 3.4, "labelOffset": 6, "labelFontSize": 14.3}},
                "order": {"field": "i", "type": "quantitative"}
              }
            },
            {
              "mark": {"type": "point", "opacity": 0},
              "encoding": {
                "x": {"field": "x", "type": "quantitative", "scale": {"domain": [0, 6], "range": [11.3, 420], "nice": false, "zero": false}, "axis": {"orient": "top", "values": [0,1,2,3,4,5,6], "labels": false, "title": null}},
                "y": {"field": "v", "type": "quantitative", "scale": {"domain": [1, 2], "nice": false, "zero": false}, "axis": {"orient": "right", "values": [1,1.2,1.4,1.6,1.8,2], "labels": false, "title": null}}
              }
            }
          ],
          "resolve": {"axis": {"x": "independent", "y": "independent"}}
        }
      ]
    }
  ]
}
